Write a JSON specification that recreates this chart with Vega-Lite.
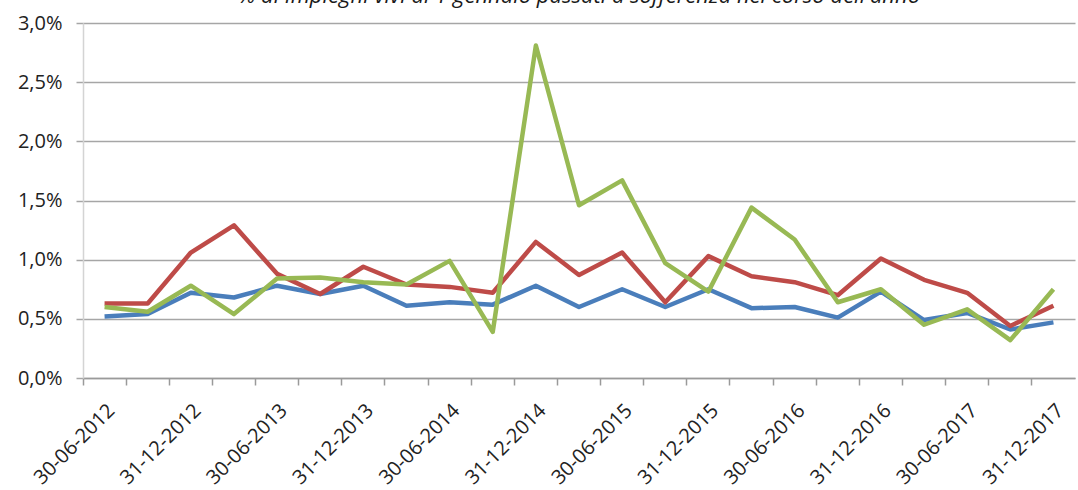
{
  "$schema": "https://vega.github.io/schema/vega-lite/v6.json",
  "width": 992,
  "height": 355,
  "autosize": "none",
  "padding": {"left": 83, "top": 23, "right": 3, "bottom": 112},
  "background": "white",
  "title": {
    "text": "% di impieghi vivi al 1 gennaio passati a sofferenza nel corso dell'anno",
    "font": "Open Sans",
    "fontSize": 22,
    "fontStyle": "italic",
    "fontWeight": "normal",
    "color": "#1a1a1a",
    "anchor": "middle",
    "frame": "group",
    "baseline": "alphabetic",
    "offset": 0,
    "dy": 12
  },
  "data": {
    "values": [
      {"d": "30-06-2012", "s": "Serie 1", "v": 0.52},
      {"d": "30-09-2012", "s": "Serie 1", "v": 0.54},
      {"d": "31-12-2012", "s": "Serie 1", "v": 0.72},
      {"d": "31-03-2013", "s": "Serie 1", "v": 0.68},
      {"d": "30-06-2013", "s": "Serie 1", "v": 0.78},
      {"d": "30-09-2013", "s": "Serie 1", "v": 0.71},
      {"d": "31-12-2013", "s": "Serie 1", "v": 0.78},
      {"d": "31-03-2014", "s": "Serie 1", "v": 0.61},
      {"d": "30-06-2014", "s": "Serie 1", "v": 0.64},
      {"d": "30-09-2014", "s": "Serie 1", "v": 0.62},
      {"d": "31-12-2014", "s": "Serie 1", "v": 0.78},
      {"d": "31-03-2015", "s": "Serie 1", "v": 0.60},
      {"d": "30-06-2015", "s": "Serie 1", "v": 0.75},
      {"d": "30-09-2015", "s": "Serie 1", "v": 0.60},
      {"d": "31-12-2015", "s": "Serie 1", "v": 0.75},
      {"d": "31-03-2016", "s": "Serie 1", "v": 0.59},
      {"d": "30-06-2016", "s": "Serie 1", "v": 0.60},
      {"d": "30-09-2016", "s": "Serie 1", "v": 0.51},
      {"d": "31-12-2016", "s": "Serie 1", "v": 0.73},
      {"d": "31-03-2017", "s": "Serie 1", "v": 0.49},
      {"d": "30-06-2017", "s": "Serie 1", "v": 0.55},
      {"d": "30-09-2017", "s": "Serie 1", "v": 0.41},
      {"d": "31-12-2017", "s": "Serie 1", "v": 0.47},
      {"d": "30-06-2012", "s": "Serie 2", "v": 0.63},
      {"d": "30-09-2012", "s": "Serie 2", "v": 0.63},
      {"d": "31-12-2012", "s": "Serie 2", "v": 1.06},
      {"d": "31-03-2013", "s": "Serie 2", "v": 1.29},
      {"d": "30-06-2013", "s": "Serie 2", "v": 0.88},
      {"d": "30-09-2013", "s": "Serie 2", "v": 0.71},
      {"d": "31-12-2013", "s": "Serie 2", "v": 0.94},
      {"d": "31-03-2014", "s": "Serie 2", "v": 0.79},
      {"d": "30-06-2014", "s": "Serie 2", "v": 0.77},
      {"d": "30-09-2014", "s": "Serie 2", "v": 0.72},
      {"d": "31-12-2014", "s": "Serie 2", "v": 1.15},
      {"d": "31-03-2015", "s": "Serie 2", "v": 0.87},
      {"d": "30-06-2015", "s": "Serie 2", "v": 1.06},
      {"d": "30-09-2015", "s": "Serie 2", "v": 0.64},
      {"d": "31-12-2015", "s": "Serie 2", "v": 1.03},
      {"d": "31-03-2016", "s": "Serie 2", "v": 0.86},
      {"d": "30-06-2016", "s": "Serie 2", "v": 0.81},
      {"d": "30-09-2016", "s": "Serie 2", "v": 0.70},
      {"d": "31-12-2016", "s": "Serie 2", "v": 1.01},
      {"d": "31-03-2017", "s": "Serie 2", "v": 0.83},
      {"d": "30-06-2017", "s": "Serie 2", "v": 0.72},
      {"d": "30-09-2017", "s": "Serie 2", "v": 0.44},
      {"d": "31-12-2017", "s": "Serie 2", "v": 0.61},
      {"d": "30-06-2012", "s": "Serie 3", "v": 0.60},
      {"d": "30-09-2012", "s": "Serie 3", "v": 0.56},
      {"d": "31-12-2012", "s": "Serie 3", "v": 0.78},
      {"d": "31-03-2013", "s": "Serie 3", "v": 0.54},
      {"d": "30-06-2013", "s": "Serie 3", "v": 0.84},
      {"d": "30-09-2013", "s": "Serie 3", "v": 0.85},
      {"d": "31-12-2013", "s": "Serie 3", "v": 0.81},
      {"d": "31-03-2014", "s": "Serie 3", "v": 0.79},
      {"d": "30-06-2014", "s": "Serie 3", "v": 0.99},
      {"d": "30-09-2014", "s": "Serie 3", "v": 0.39},
      {"d": "31-12-2014", "s": "Serie 3", "v": 2.81},
      {"d": "31-03-2015", "s": "Serie 3", "v": 1.46},
      {"d": "30-06-2015", "s": "Serie 3", "v": 1.67},
      {"d": "30-09-2015", "s": "Serie 3", "v": 0.97},
      {"d": "31-12-2015", "s": "Serie 3", "v": 0.73},
      {"d": "31-03-2016", "s": "Serie 3", "v": 1.44},
      {"d": "30-06-2016", "s": "Serie 3", "v": 1.17},
      {"d": "30-09-2016", "s": "Serie 3", "v": 0.64},
      {"d": "31-12-2016", "s": "Serie 3", "v": 0.75},
      {"d": "31-03-2017", "s": "Serie 3", "v": 0.45},
      {"d": "30-06-2017", "s": "Serie 3", "v": 0.58},
      {"d": "30-09-2017", "s": "Serie 3", "v": 0.32},
      {"d": "31-12-2017", "s": "Serie 3", "v": 0.75}
    ]
  },
  "mark": {"type": "line", "strokeWidth": 4.5, "strokeJoin": "round", "strokeCap": "butt"},
  "encoding": {
    "x": {
      "field": "d",
      "type": "ordinal",
      "sort": null,
      "scale": {"type": "band", "paddingInner": 0, "paddingOuter": 0},
      "axis": {
        "title": null,
        "bandPosition": 0,
        "labelAngle": -45,
        "labelAlign": "right",
        "labelBaseline": "top",
        "labelFont": "Open Sans",
        "labelFontSize": 20,
        "labelColor": "#222222",
        "labelPadding": 15,
        "labelExpr": "(slice(datum.value,3,5)=='06' || slice(datum.value,3,5)=='12') ? datum.value : ''",
        "labelOverlap": false,
        "labelBound": false,
        "labelFlush": false,
        "domainColor": "#9a9a9a",
        "domainWidth": 1.5,
        "tickColor": "#9a9a9a",
        "tickWidth": 1.5,
        "tickSize": 7,
        "grid": false
      }
    },
    "y": {
      "field": "v",
      "type": "quantitative",
      "scale": {"domain": [0, 3], "nice": false},
      "axis": {
        "title": null,
        "values": [0, 0.5, 1, 1.5, 2, 2.5, 3],
        "labelExpr": "replace(format(datum.value, '.1f'), '.', ',') + '%'",
        "labelFont": "Open Sans",
        "labelFontSize": 20,
        "labelColor": "#222222",
        "labelPadding": 14,
        "grid": true,
        "gridColor": "#a6a6a6",
        "gridWidth": 1.5,
        "domainColor": "#d4d4d4",
        "domainWidth": 1.5,
        "tickColor": "#a6a6a6",
        "tickWidth": 1.5,
        "tickSize": 7
      }
    },
    "color": {
      "field": "s",
      "type": "nominal",
      "scale": {"domain": ["Serie 1", "Serie 2", "Serie 3"], "range": ["#4a7ebb", "#be4b48", "#98b954"]},
      "legend": null
    }
  },
  "config": {"view": {"stroke": null}}
}
